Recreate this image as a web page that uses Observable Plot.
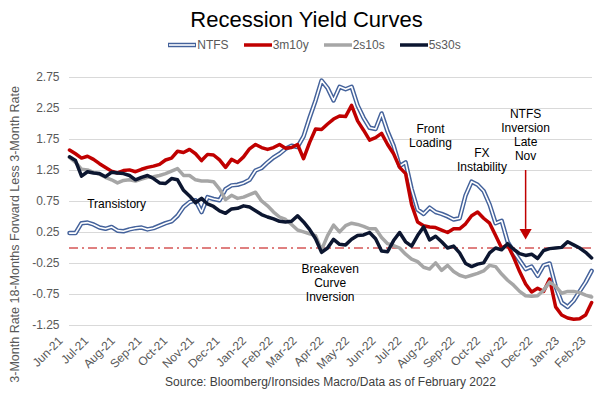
<!DOCTYPE html>
<html>
<head>
<meta charset="utf-8">
<script src="https://cdn.jsdelivr.net/npm/d3@7"></script>
<script src="https://cdn.jsdelivr.net/npm/@observablehq/plot@0.6"></script>
<style>
  body { margin: 0; background: #fff; }
  #wrap { position: relative; width: 613px; height: 398px; font-family: "Liberation Sans", Arial, sans-serif; overflow: hidden; }
  #chart { position: absolute; top: 0; left: 0; }
  #title { position: absolute; top: 7px; left: 0; width: 613px; text-align: center; font-size: 22px; color: #000; line-height: 26px; z-index: 2; }
  #legend { position: absolute; top: 36px; left: 8px; width: 613px; display: flex; justify-content: center; gap: 15px; font-size: 12px; color: #595959; line-height: 18px; z-index: 2; }
  #legend .item { display: flex; align-items: center; }
  #caption { position: absolute; top: 374px; left: 24px; width: 613px; text-align: center; font-size: 12px; color: #404040; line-height: 16px; z-index: 2; }
</style>
</head>
<body>
<div id="wrap">
  <div id="chart"></div>
  <div id="title">Recession Yield Curves</div>
  <div id="legend"></div>
  <div id="caption">Source: Bloomberg/Ironsides Macro/Data as of February 2022</div>
</div>
<script>
// ---- data (weekly observations starting 4 Jun 2021) ----
const startDate = "2021-06-04";
const endDate = "2023-02-04";

const seriesNames = ["NTFS", "3m10y", "2s10s", "5s30s"];
const seriesColors = ["#44629b", "#c00000", "#a6a6a6", "#0c1630"];

const ntfs = [0.24,0.24,0.40,0.41,0.38,0.33,0.31,0.34,0.28,0.27,
  0.30,0.32,0.33,0.30,0.32,0.36,0.40,0.43,0.52,0.66,
  0.74,0.77,0.58,0.82,0.79,0.77,0.95,1.01,1.02,1.05,
  1.10,1.25,1.29,1.38,1.46,1.52,1.60,1.65,1.63,1.80,
  2.10,2.38,2.70,2.58,2.38,2.60,2.56,2.60,2.30,2.10,
  1.94,1.92,2.17,1.88,1.65,1.32,1.38,0.95,0.62,0.55,
  0.65,0.58,0.55,0.51,0.46,0.48,0.85,1.07,1.02,0.92,
  0.70,0.40,0.44,0.10,-0.06,-0.20,-0.34,-0.30,-0.45,-0.28,
  -0.25,-0.62,-0.88,-0.95,-0.85,-0.70,-0.55,-0.37];

const m3y10 = [1.58,1.52,1.45,1.48,1.43,1.36,1.30,1.24,1.21,1.25,
  1.26,1.23,1.27,1.30,1.32,1.35,1.42,1.45,1.56,1.54,
  1.59,1.52,1.41,1.51,1.50,1.42,1.30,1.43,1.38,1.47,
  1.60,1.67,1.62,1.59,1.62,1.67,1.61,1.62,1.67,1.44,
  1.70,1.92,1.91,2.00,2.08,2.13,2.12,2.30,2.05,1.90,
  1.74,1.78,1.85,1.67,1.52,1.30,1.20,0.70,0.42,0.36,
  0.34,0.33,0.29,0.25,0.31,0.31,0.39,0.52,0.58,0.48,
  0.40,0.20,0.00,0.05,-0.15,-0.38,-0.58,-0.71,-0.65,-0.70,
  -0.50,-0.95,-1.08,-1.13,-1.15,-1.14,-1.08,-0.88];

const s2s10 = [1.46,1.38,1.27,1.26,1.22,1.19,1.14,1.10,1.05,1.09,
  1.10,1.08,1.11,1.14,1.15,1.17,1.20,1.24,1.28,1.17,
  1.17,1.10,1.08,1.08,1.07,0.95,0.78,0.85,0.80,0.82,
  0.86,0.90,0.76,0.68,0.58,0.50,0.46,0.38,0.29,0.26,
  0.23,0.20,-0.03,0.20,0.37,0.26,0.36,0.40,0.38,0.35,
  0.31,0.31,0.17,0.07,0.04,0.00,-0.10,-0.18,-0.22,-0.31,
  -0.34,-0.24,-0.36,-0.28,-0.38,-0.44,-0.47,-0.44,-0.41,-0.37,
  -0.28,-0.30,-0.42,-0.52,-0.60,-0.70,-0.77,-0.78,-0.77,-0.68,
  -0.55,-0.62,-0.73,-0.70,-0.70,-0.72,-0.76,-0.79];

const s5s30 = [1.47,1.41,1.16,1.23,1.21,1.20,1.15,1.22,1.21,1.20,
  1.17,1.10,1.14,1.17,1.12,1.05,1.04,1.12,1.10,0.93,
  0.84,0.73,0.80,0.71,0.67,0.60,0.56,0.63,0.64,0.68,
  0.66,0.60,0.54,0.50,0.47,0.43,0.42,0.43,0.52,0.42,
  0.30,0.15,-0.07,0.00,0.14,0.06,0.05,0.14,0.20,0.21,
  0.25,0.15,-0.05,-0.06,0.12,0.25,0.10,0.03,0.20,0.34,
  0.13,0.19,0.10,0.00,0.03,-0.08,-0.25,-0.30,-0.26,-0.24,
  -0.08,0.00,-0.03,0.07,-0.02,-0.09,-0.12,-0.10,-0.17,-0.04,
  -0.01,0.00,0.01,0.10,0.05,0.00,-0.07,-0.16];

const tickLabels = ["Jun-21","Jul-21","Aug-21","Sep-21","Oct-21","Nov-21","Dec-21","Jan-22","Feb-22","Mar-22","Apr-22","May-22","Jun-22","Jul-22","Aug-22","Sep-22","Oct-22","Nov-22","Dec-22","Jan-23","Feb-23"];
const yTicks = [-1.25,-0.75,-0.25,0.25,0.75,1.25,1.75,2.25,2.75];
const yLabel = "3-Month Rate 18-Months Forward Less 3-Month Rate";

const annotations = [
  {date: "2021-07-29", value: 0.72, text: "Transistory"},
  {date: "2022-04-04", value: -0.56, text: "Breakeven\nCurve\nInversion"},
  {date: "2022-07-30", value: 1.81, text: "Front\nLoading"},
  {date: "2022-09-28", value: 1.42, text: "FX\nInstability"},
  {date: "2022-11-18", value: 1.83, text: "NTFS\nInversion\nLate\nNov"}
];
const arrow = {date: "2022-11-18", from: 1.25, to: 0.2};

// ---- build ----
const t0 = new Date(startDate + "T00:00:00Z");
const dates = ntfs.map((_, i) => d3.utcDay.offset(t0, 7 * i));
const tickDates = tickLabels.map((_, i) => d3.utcMonth.offset(t0, i));
const parse = s => new Date(s + "T00:00:00Z");

const lineOpts = (arr, color, w) => Plot.line(arr, {x: (d, i) => dates[i], y: d => d, stroke: color, strokeWidth: w, strokeLinejoin: "round", strokeLinecap: "round"});

const chart = Plot.plot({
  width: 613,
  height: 398,
  marginLeft: 69,
  marginRight: 21,
  marginTop: 77,
  marginBottom: 73,
  style: {fontFamily: "'Liberation Sans', Arial, sans-serif", fontSize: "12px", color: "#595959", background: "#fff", overflow: "visible"},
  x: {type: "utc", domain: [t0, parse(endDate)], axis: null},
  y: {domain: [-1.25, 2.75]},
  marks: [
    Plot.gridY(yTicks, {stroke: "#d9d9d9", strokeOpacity: 1, strokeWidth: 1}),
    Plot.ruleY([0], {stroke: "#c00000", strokeWidth: 1, strokeDasharray: "9,4,2,4"}),
    Plot.axisY({ticks: yTicks, tickFormat: d => d.toFixed(2), tickSize: 0, tickPadding: 10, label: null, fill: "#595959", fontSize: 12}),
    Plot.text(tickDates, {x: d => d, frameAnchor: "bottom", text: (d, i) => tickLabels[i], rotate: -45, textAnchor: "end", dx: -6, dy: 16, fill: "#595959", fontSize: 12}),
    Plot.text([yLabel], {frameAnchor: "left", y: [0.22], text: d => d, rotate: -90, textAnchor: "middle", dx: -55, fill: "#595959", fontSize: 12.5}),
    lineOpts(ntfs, seriesColors[0], 4.5),
    lineOpts(ntfs, "#ffffff", 1.6),
    lineOpts(m3y10, seriesColors[1], 3.5),
    lineOpts(s2s10, seriesColors[2], 3.5),
    lineOpts(s5s30, seriesColors[3], 3.5),
    Plot.ruleX([arrow], {x: d => parse(d.date), y1: d => d.from, y2: d => d.to + 0.1, stroke: "#c00000", strokeWidth: 1.5}),
    Plot.dot([arrow], {x: d => parse(d.date), y: d => d.to + 0.05, symbol: "triangle", rotate: 180, r: 4.5, fill: "#c00000", stroke: "none"}),
    Plot.text(annotations, {x: d => parse(d.date), y: "value", text: "text", fill: "#000", fontSize: 12, lineHeight: 1.17, textAnchor: "middle"})
  ]
});
document.getElementById("chart").appendChild(chart);

// legend
const legend = d3.select("#legend");
seriesNames.forEach((name, i) => {
  const item = legend.append("div").attr("class", "item");
  const svg = item.append("svg").attr("width", 28).attr("height", 10);
  svg.append("line").attr("x1", 0).attr("x2", 28).attr("y1", 5).attr("y2", 5)
    .attr("stroke", seriesColors[i]).attr("stroke-width", i === 0 ? 4.5 : 3.5);
  if (i === 0) {
    svg.append("line").attr("x1", 1).attr("x2", 27).attr("y1", 5).attr("y2", 5)
      .attr("stroke", "#fff").attr("stroke-width", 1.6);
  }
  item.append("span").text(name).style("margin-left", "1px");
});
</script>
</body>
</html>
